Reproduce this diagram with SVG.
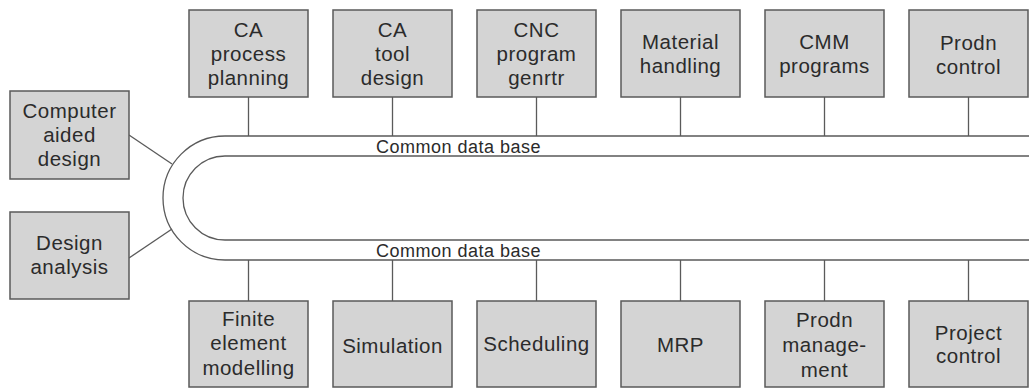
<svg xmlns="http://www.w3.org/2000/svg" width="1029" height="388" viewBox="0 0 1029 388">
  <style>
    .box { fill: #d4d4d4; stroke: #5a5a5a; stroke-width: 1.5; }
    .lbl { font-family: "Liberation Sans", Arial, sans-serif; font-size: 20.5px; fill: #2b2b2b; text-anchor: middle; letter-spacing: 0.5px; }
    .bus { font-family: "Liberation Sans", Arial, sans-serif; font-size: 18px; fill: #2b2b2b; letter-spacing: 0.5px; }
    .wire { fill: none; stroke: #5a5a5a; stroke-width: 1.3; }
  </style>
  <rect width="1029" height="388" fill="#ffffff"/>

  <!-- data base ring and links -->
  <g id="connectors">
    <path class="wire" d="M1029 136 H225 A62 62 0 0 0 225 260 H1029"/>
    <path class="wire" d="M1029 156 H225 A42 42 0 0 0 225 240 H1029"/>
    <line class="wire" x1="129" y1="135" x2="172" y2="164"/>
    <line class="wire" x1="129" y1="258" x2="172" y2="229"/>
    <line class="wire" x1="248.5" y1="97" x2="248.5" y2="136"/>
    <line class="wire" x1="392.5" y1="97" x2="392.5" y2="136"/>
    <line class="wire" x1="536.5" y1="97" x2="536.5" y2="136"/>
    <line class="wire" x1="680.5" y1="97" x2="680.5" y2="136"/>
    <line class="wire" x1="824.5" y1="97" x2="824.5" y2="136"/>
    <line class="wire" x1="968.5" y1="97" x2="968.5" y2="136"/>
    <line class="wire" x1="248.5" y1="260" x2="248.5" y2="301"/>
    <line class="wire" x1="392.5" y1="260" x2="392.5" y2="301"/>
    <line class="wire" x1="536.5" y1="260" x2="536.5" y2="301"/>
    <line class="wire" x1="680.5" y1="260" x2="680.5" y2="301"/>
    <line class="wire" x1="824.5" y1="260" x2="824.5" y2="301"/>
    <line class="wire" x1="968.5" y1="260" x2="968.5" y2="301"/>
    <text class="bus" x="376" y="153">Common data base</text>
    <text class="bus" x="376" y="257">Common data base</text>
  </g>

  <!-- left side -->
  <g id="cad">
    <rect class="box" x="10" y="91" width="119" height="88"/>
    <text class="lbl" x="69.5" y="118">Computer</text>
    <text class="lbl" x="69.5" y="142">aided</text>
    <text class="lbl" x="69.5" y="166">design</text>
  </g>
  <g id="design-analysis">
    <rect class="box" x="10" y="212" width="119" height="87"/>
    <text class="lbl" x="69.5" y="250">Design</text>
    <text class="lbl" x="69.5" y="274">analysis</text>
  </g>

  <!-- top row -->
  <g id="ca-process-planning">
    <rect class="box" x="189" y="10" width="119" height="87"/>
    <text class="lbl" x="248.5" y="37">CA</text>
    <text class="lbl" x="248.5" y="61">process</text>
    <text class="lbl" x="248.5" y="85">planning</text>
  </g>
  <g id="ca-tool-design">
    <rect class="box" x="333" y="10" width="119" height="87"/>
    <text class="lbl" x="392.5" y="37">CA</text>
    <text class="lbl" x="392.5" y="61">tool</text>
    <text class="lbl" x="392.5" y="85">design</text>
  </g>
  <g id="cnc-program">
    <rect class="box" x="477" y="10" width="119" height="87"/>
    <text class="lbl" x="536.5" y="37">CNC</text>
    <text class="lbl" x="536.5" y="61">program</text>
    <text class="lbl" x="536.5" y="85">genrtr</text>
  </g>
  <g id="material-handling">
    <rect class="box" x="621" y="10" width="119" height="87"/>
    <text class="lbl" x="680.5" y="48.5">Material</text>
    <text class="lbl" x="680.5" y="73">handling</text>
  </g>
  <g id="cmm-programs">
    <rect class="box" x="765" y="10" width="119" height="87"/>
    <text class="lbl" x="824.5" y="48.5">CMM</text>
    <text class="lbl" x="824.5" y="73">programs</text>
  </g>
  <g id="prodn-control">
    <rect class="box" x="909" y="10" width="119" height="87"/>
    <text class="lbl" x="968.5" y="49.5">Prodn</text>
    <text class="lbl" x="968.5" y="74">control</text>
  </g>

  <!-- bottom row -->
  <g id="finite-element">
    <rect class="box" x="189" y="301" width="119" height="86"/>
    <text class="lbl" x="248.5" y="325.5">Finite</text>
    <text class="lbl" x="248.5" y="350">element</text>
    <text class="lbl" x="248.5" y="374.5">modelling</text>
  </g>
  <g id="simulation">
    <rect class="box" x="333" y="301" width="119" height="86"/>
    <text class="lbl" x="392.5" y="352.5">Simulation</text>
  </g>
  <g id="scheduling">
    <rect class="box" x="477" y="301" width="119" height="86"/>
    <text class="lbl" x="536.5" y="351">Scheduling</text>
  </g>
  <g id="mrp">
    <rect class="box" x="621" y="301" width="119" height="86"/>
    <text class="lbl" x="680.5" y="352">MRP</text>
  </g>
  <g id="prodn-management">
    <rect class="box" x="765" y="301" width="119" height="86"/>
    <text class="lbl" x="824.5" y="327">Prodn</text>
    <text class="lbl" x="824.5" y="352">manage-</text>
    <text class="lbl" x="824.5" y="377">ment</text>
  </g>
  <g id="project-control">
    <rect class="box" x="909" y="301" width="119" height="86"/>
    <text class="lbl" x="968.5" y="339.5">Project</text>
    <text class="lbl" x="968.5" y="363">control</text>
  </g>
</svg>
